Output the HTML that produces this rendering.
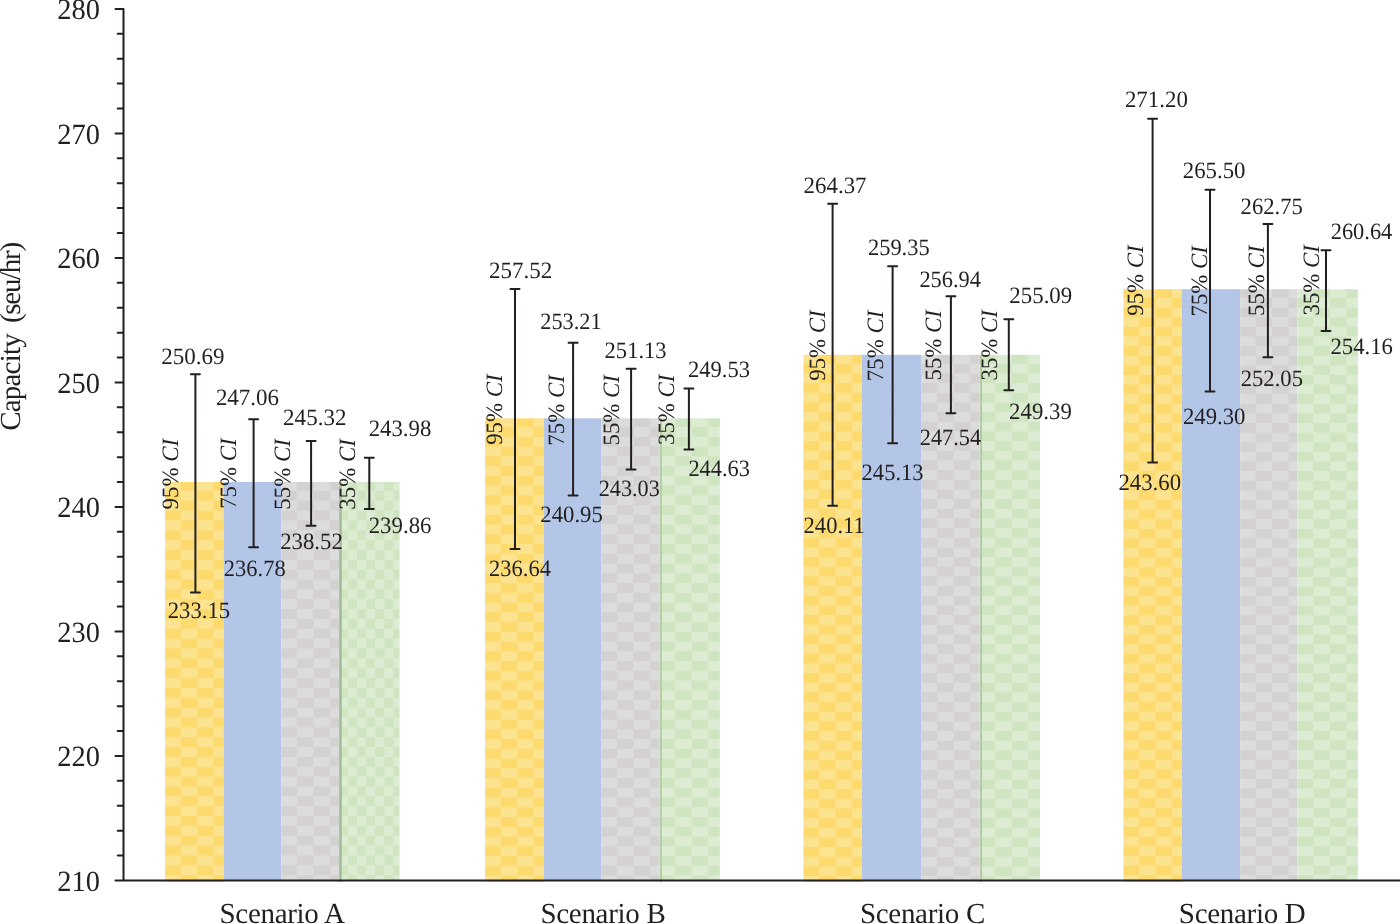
<!DOCTYPE html>
<html><head><meta charset="utf-8"><title>Capacity chart</title>
<style>html,body{margin:0;padding:0;background:#fff;}body{width:1400px;height:924px;overflow:hidden;font-family:"Liberation Serif",serif;}svg{display:block;will-change:transform;}</style>
</head><body>
<svg width="1400" height="924" viewBox="0 0 1400 924" font-family="Liberation Serif"><defs><pattern id="yA" patternUnits="userSpaceOnUse" x="164.40" y="471.09" width="32.800" height="19.708"><rect width="32.800" height="19.708" fill="#fce38f"/><rect width="16.400" height="9.854" fill="#fdda6e"/><rect x="16.400" y="9.854" width="16.400" height="9.854" fill="#fdda6e"/></pattern><pattern id="gA" patternUnits="userSpaceOnUse" x="280.70" y="471.09" width="32.800" height="19.708"><rect width="32.800" height="19.708" fill="#dcdcdc"/><rect width="16.400" height="9.854" fill="#d3d1d2"/><rect x="16.400" y="9.854" width="16.400" height="9.854" fill="#d3d1d2"/></pattern><pattern id="nA" patternUnits="userSpaceOnUse" x="338.80" y="471.09" width="18.200" height="19.708"><rect width="18.200" height="19.708" fill="#dcecd2"/><rect width="9.100" height="9.854" fill="#cfe5c1"/><rect x="9.100" y="9.854" width="9.100" height="9.854" fill="#cfe5c1"/></pattern><pattern id="yB" patternUnits="userSpaceOnUse" x="484.40" y="407.60" width="32.800" height="19.496"><rect width="32.800" height="19.496" fill="#fdda6e"/><rect width="16.400" height="9.748" fill="#fce38f"/><rect x="16.400" y="9.748" width="16.400" height="9.748" fill="#fce38f"/></pattern><pattern id="gB" patternUnits="userSpaceOnUse" x="600.80" y="407.60" width="32.800" height="19.496"><rect width="32.800" height="19.496" fill="#d3d1d2"/><rect width="16.400" height="9.748" fill="#dcdcdc"/><rect x="16.400" y="9.748" width="16.400" height="9.748" fill="#dcdcdc"/></pattern><pattern id="nB" patternUnits="userSpaceOnUse" x="658.70" y="407.60" width="32.800" height="19.496"><rect width="32.800" height="19.496" fill="#dcecd2"/><rect width="16.400" height="9.748" fill="#cfe5c1"/><rect x="16.400" y="9.748" width="16.400" height="9.748" fill="#cfe5c1"/></pattern><pattern id="yC" patternUnits="userSpaceOnUse" x="802.70" y="344.47" width="32.800" height="19.332"><rect width="32.800" height="19.332" fill="#fce38f"/><rect width="16.400" height="9.666" fill="#fdda6e"/><rect x="16.400" y="9.666" width="16.400" height="9.666" fill="#fdda6e"/></pattern><pattern id="gC" patternUnits="userSpaceOnUse" x="920.90" y="344.47" width="32.800" height="19.332"><rect width="32.800" height="19.332" fill="#dcdcdc"/><rect width="16.400" height="9.666" fill="#d3d1d2"/><rect x="16.400" y="9.666" width="16.400" height="9.666" fill="#d3d1d2"/></pattern><pattern id="nC" patternUnits="userSpaceOnUse" x="978.90" y="344.47" width="32.800" height="19.332"><rect width="32.800" height="19.332" fill="#cfe5c1"/><rect width="16.400" height="9.666" fill="#dcecd2"/><rect x="16.400" y="9.666" width="16.400" height="9.666" fill="#dcecd2"/></pattern><pattern id="yD" patternUnits="userSpaceOnUse" x="1122.70" y="278.76" width="32.800" height="19.236"><rect width="32.800" height="19.236" fill="#fdda6e"/><rect width="16.400" height="9.618" fill="#fce38f"/><rect x="16.400" y="9.618" width="16.400" height="9.618" fill="#fce38f"/></pattern><pattern id="gD" patternUnits="userSpaceOnUse" x="1239.40" y="278.76" width="32.800" height="19.236"><rect width="32.800" height="19.236" fill="#d3d1d2"/><rect width="16.400" height="9.618" fill="#dcdcdc"/><rect x="16.400" y="9.618" width="16.400" height="9.618" fill="#dcdcdc"/></pattern><pattern id="nD" patternUnits="userSpaceOnUse" x="1297.10" y="278.76" width="32.800" height="19.236"><rect width="32.800" height="19.236" fill="#dcecd2"/><rect width="16.400" height="9.618" fill="#cfe5c1"/><rect x="16.400" y="9.618" width="16.400" height="9.618" fill="#cfe5c1"/></pattern></defs><rect width="1400" height="924" fill="#fff"/><rect x="165.1" y="482.0" width="58.50" height="400.00" fill="url(#yA)"/><rect x="223.6" y="482.0" width="57.80" height="399.00" fill="#b4c6e7"/><rect x="281.4" y="482.0" width="57.80" height="399.00" fill="url(#gA)"/><rect x="339.2" y="482.0" width="60.40" height="399.00" fill="url(#nA)"/><rect x="339.2" y="482.0" width="2.6" height="400.00" fill="#a6bc97"/><rect x="485.1" y="418.3" width="58.60" height="463.70" fill="url(#yB)"/><rect x="543.7" y="418.3" width="57.80" height="462.70" fill="#b4c6e7"/><rect x="601.5" y="418.3" width="58.10" height="462.70" fill="url(#gB)"/><rect x="659.6" y="418.3" width="60.30" height="462.70" fill="url(#nB)"/><rect x="659.9" y="418.3" width="1.9" height="463.70" fill="#b3caa1"/><rect x="803.4" y="354.8" width="58.40" height="527.20" fill="url(#yC)"/><rect x="861.8" y="354.8" width="59.80" height="526.20" fill="#b4c6e7"/><rect x="921.6" y="354.8" width="58.20" height="526.20" fill="url(#gC)"/><rect x="979.8" y="354.8" width="60.20" height="526.20" fill="url(#nC)"/><rect x="980.0999999999999" y="354.8" width="1.9" height="527.20" fill="#b3caa1"/><rect x="1123.4" y="289.2" width="58.40" height="592.80" fill="url(#yD)"/><rect x="1181.8" y="289.2" width="58.30" height="591.80" fill="#b4c6e7"/><rect x="1240.1" y="289.2" width="57.40" height="591.80" fill="url(#gD)"/><rect x="1297.5" y="289.2" width="60.40" height="591.80" fill="url(#nD)"/><path d="M195.40 374.14V592.53M190.90 374.14h9M190.90 592.53h9M253.60 419.34V547.33M249.10 419.34h9M249.10 547.33h9M311.10 441.00V525.67M306.60 441.00h9M306.60 525.67h9M369.30 457.69V508.98M364.80 457.69h9M364.80 508.98h9M515.00 289.10V549.08M510.50 289.10h9M510.50 549.08h9M573.10 342.76V495.41M568.60 342.76h9M568.60 495.41h9M631.10 368.66V469.51M626.60 368.66h9M626.60 469.51h9M688.90 388.58V449.59M684.40 388.58h9M684.40 449.59h9M832.60 203.81V505.87M828.10 203.81h9M828.10 505.87h9M892.60 266.31V443.37M888.10 266.31h9M888.10 443.37h9M950.90 296.32V413.36M946.40 296.32h9M946.40 413.36h9M1008.80 319.35V390.33M1004.30 319.35h9M1004.30 390.33h9M1152.60 118.77V462.42M1148.10 118.77h9M1148.10 462.42h9M1210.00 189.74V391.45M1205.50 189.74h9M1205.50 391.45h9M1267.90 223.98V357.21M1263.40 223.98h9M1263.40 357.21h9M1326.00 250.25V330.93M1321.50 250.25h9M1321.50 330.93h9" stroke="#231f20" stroke-width="2" fill="none" stroke-linecap="round"/><path d="M123.5 8.9V880.5H1400M115.5 8.90H123.5M117.7 33.80H123.5M117.7 58.70H123.5M117.7 83.61H123.5M117.7 108.51H123.5M115.5 133.41H123.5M117.7 158.31H123.5M117.7 183.21H123.5M117.7 208.12H123.5M117.7 233.02H123.5M115.5 257.92H123.5M117.7 282.82H123.5M117.7 307.72H123.5M117.7 332.63H123.5M117.7 357.53H123.5M115.5 382.43H123.5M117.7 407.33H123.5M117.7 432.23H123.5M117.7 457.14H123.5M117.7 482.04H123.5M115.5 506.94H123.5M117.7 531.84H123.5M117.7 556.74H123.5M117.7 581.65H123.5M117.7 606.55H123.5M115.5 631.45H123.5M117.7 656.35H123.5M117.7 681.25H123.5M117.7 706.16H123.5M117.7 731.06H123.5M115.5 755.96H123.5M117.7 780.86H123.5M117.7 805.76H123.5M117.7 830.67H123.5M117.7 855.57H123.5M115.5 880.47H123.5" stroke="#231f20" stroke-width="2" fill="none" stroke-linecap="round" stroke-linejoin="round"/><g fill="#231f20" text-rendering="geometricPrecision"><text transform="translate(161.29 364.15) scale(0.981 1)" font-size="23.45">250.69</text><text transform="translate(215.89 404.75) scale(0.98 1)" font-size="23.45">247.06</text><text transform="translate(283.09 425.25) scale(0.984 1)" font-size="23.45">245.32</text><text transform="translate(368.69 436.35) scale(0.972 1)" font-size="23.45">243.98</text><text transform="translate(167.71 618.15) scale(0.969 1)" font-size="23.45">233.15</text><text transform="translate(223.81 576.45) scale(0.959 1)" font-size="23.45">236.78</text><text transform="translate(280.19 549.05) scale(0.971 1)" font-size="23.45">238.52</text><text transform="translate(368.69 532.75) scale(0.975 1)" font-size="23.45">239.86</text><text transform="translate(177.75 509.45) rotate(-90) scale(0.975 1)" font-size="23.45">95% <tspan font-style="italic">CI</tspan></text><text transform="translate(236.15 508.83) rotate(-90) scale(0.975 1)" font-size="23.45">75% <tspan font-style="italic">CI</tspan></text><text transform="translate(289.55 509.65) rotate(-90) scale(0.975 1)" font-size="23.45">55% <tspan font-style="italic">CI</tspan></text><text transform="translate(355.35 509.63) rotate(-90) scale(0.975 1)" font-size="23.45">35% <tspan font-style="italic">CI</tspan></text><text transform="translate(488.89 277.95) scale(0.983 1)" font-size="23.45">257.52</text><text transform="translate(540.32 329.25) scale(0.95 1)" font-size="23.45">253.21</text><text transform="translate(604.61 357.75) scale(0.961 1)" font-size="23.45">251.13</text><text transform="translate(687.91 376.65) scale(0.964 1)" font-size="23.45">249.53</text><text transform="translate(489.11 575.75) scale(0.958 1)" font-size="23.45">236.64</text><text transform="translate(540.31 521.95) scale(0.969 1)" font-size="23.45">240.95</text><text transform="translate(598.72 496.15) scale(0.947 1)" font-size="23.45">243.03</text><text transform="translate(688.41 476.25) scale(0.956 1)" font-size="23.45">244.63</text><text transform="translate(501.85 444.85) rotate(-90) scale(0.975 1)" font-size="23.45">95% <tspan font-style="italic">CI</tspan></text><text transform="translate(563.95 445.63) rotate(-90) scale(0.975 1)" font-size="23.45">75% <tspan font-style="italic">CI</tspan></text><text transform="translate(619.15 445.55) rotate(-90) scale(0.975 1)" font-size="23.45">55% <tspan font-style="italic">CI</tspan></text><text transform="translate(673.65 445.03) rotate(-90) scale(0.975 1)" font-size="23.45">35% <tspan font-style="italic">CI</tspan></text><text transform="translate(803.59 192.55) scale(0.977 1)" font-size="23.45">264.37</text><text transform="translate(867.91 254.95) scale(0.959 1)" font-size="23.45">259.35</text><text transform="translate(919.41 287.05) scale(0.956 1)" font-size="23.45">256.94</text><text transform="translate(1009.29 303.45) scale(0.977 1)" font-size="23.45">255.09</text><text transform="translate(803.61 532.56) scale(0.961 1)" font-size="23.45">240.11</text><text transform="translate(861.61 479.55) scale(0.961 1)" font-size="23.45">245.13</text><text transform="translate(919.72 444.75) scale(0.952 1)" font-size="23.45">247.54</text><text transform="translate(1009.09 419.35) scale(0.973 1)" font-size="23.45">249.39</text><text transform="translate(824.75 380.75) rotate(-90) scale(0.975 1)" font-size="23.45">95% <tspan font-style="italic">CI</tspan></text><text transform="translate(882.55 381.13) rotate(-90) scale(0.975 1)" font-size="23.45">75% <tspan font-style="italic">CI</tspan></text><text transform="translate(940.65 380.55) rotate(-90) scale(0.975 1)" font-size="23.45">55% <tspan font-style="italic">CI</tspan></text><text transform="translate(996.65 380.53) rotate(-90) scale(0.975 1)" font-size="23.45">35% <tspan font-style="italic">CI</tspan></text><text transform="translate(1124.89 107.48) scale(0.979 1)" font-size="23.45">271.20</text><text transform="translate(1182.79 177.75) scale(0.973 1)" font-size="23.45">265.50</text><text transform="translate(1240.61 213.55) scale(0.967 1)" font-size="23.45">262.75</text><text transform="translate(1330.71 239.05) scale(0.956 1)" font-size="23.45">260.64</text><text transform="translate(1118.39 489.75) scale(0.973 1)" font-size="23.45">243.60</text><text transform="translate(1182.89 423.55) scale(0.971 1)" font-size="23.45">249.30</text><text transform="translate(1240.71 386.35) scale(0.966 1)" font-size="23.45">252.05</text><text transform="translate(1330.51 354.25) scale(0.969 1)" font-size="23.45">254.16</text><text transform="translate(1142.75 315.75) rotate(-90) scale(0.975 1)" font-size="23.45">95% <tspan font-style="italic">CI</tspan></text><text transform="translate(1207.15 316.53) rotate(-90) scale(0.975 1)" font-size="23.45">75% <tspan font-style="italic">CI</tspan></text><text transform="translate(1263.75 316.05) rotate(-90) scale(0.975 1)" font-size="23.45">55% <tspan font-style="italic">CI</tspan></text><text transform="translate(1318.65 315.53) rotate(-90) scale(0.975 1)" font-size="23.45">35% <tspan font-style="italic">CI</tspan></text><text transform="translate(57.27 890.65) scale(0.97 1)" font-size="29.3">210</text><text transform="translate(57.27 766.14) scale(0.97 1)" font-size="29.3">220</text><text transform="translate(57.27 641.60) scale(0.97 1)" font-size="29.3">230</text><text transform="translate(57.27 517.12) scale(0.97 1)" font-size="29.3">240</text><text transform="translate(57.27 392.58) scale(0.97 1)" font-size="29.3">250</text><text transform="translate(57.27 268.07) scale(0.97 1)" font-size="29.3">260</text><text transform="translate(57.27 143.59) scale(0.97 1)" font-size="29.3">270</text><text transform="translate(57.27 19.06) scale(0.97 1)" font-size="29.3">280</text><text x="219.53" y="923.00" font-size="29.0" letter-spacing="-0.3">Scenario A</text><text x="540.43" y="923.00" font-size="29.0" letter-spacing="-0.3">Scenario B</text><text x="859.93" y="923.00" font-size="29.0" letter-spacing="-0.3">Scenario C</text><text x="1178.83" y="923.00" font-size="29.0" letter-spacing="-0.3">Scenario D</text><text transform="translate(20.1 430.8) rotate(-90)" font-size="29" letter-spacing="-0.8">Capacity</text><text transform="translate(20.1 323.0) rotate(-90)" font-size="29" letter-spacing="-1.3">(seu/hr)</text></g></svg>
</body></html>
